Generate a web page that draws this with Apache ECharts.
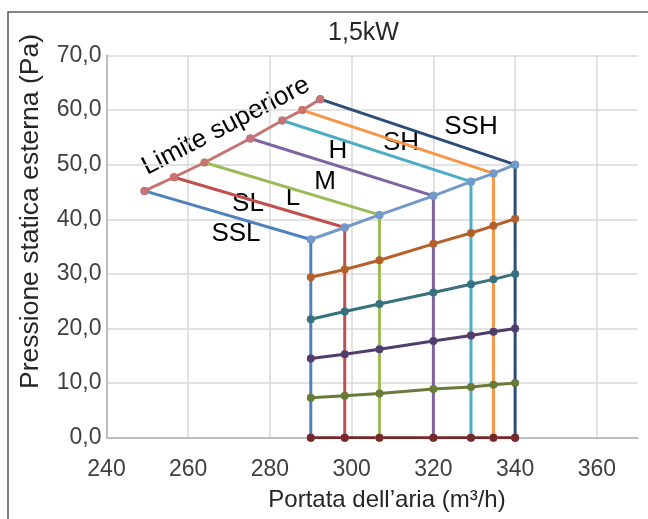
<!DOCTYPE html>
<html><head><meta charset="utf-8">
<script src="https://cdn.jsdelivr.net/npm/echarts@6/dist/echarts.min.js"></script>
<style>html,body{margin:0;padding:0;background:#fff}#c{width:648px;height:519px}</style>
</head><body><div id="c"></div>
<script>
// ---- data ----
const speedNames = ['SSL', 'SL', 'L', 'M', 'H', 'SH', 'SSH'];
// upper limit points (Limite superiore)
const upperFlow = [249.3, 256.5, 264.0, 275.2, 283.0, 287.9, 292.3];
const upperPress = [45.2, 47.7, 50.4, 54.8, 58.1, 60.0, 62.0];
// end points of each speed curve (maximum static pressure at fixed flow)
const endFlow = [290.0, 298.3, 306.8, 320.0, 329.2, 334.7, 340.0];
const endPress = [36.3, 38.5, 40.8, 44.3, 46.9, 48.4, 50.0];
// curves of constant external static pressure
const press40 = [29.4, 30.8, 32.5, 35.5, 37.5, 38.8, 40.1];
const press30 = [21.7, 23.1, 24.5, 26.6, 28.1, 29.0, 30.0];
const press20 = [14.5, 15.3, 16.2, 17.7, 18.7, 19.4, 20.0];
const press10 = [7.3, 7.7, 8.1, 8.9, 9.3, 9.7, 10.0];
const press0 = [0, 0, 0, 0, 0, 0, 0];
const xTicks = [240, 260, 280, 300, 320, 340, 360];
const yTicks = [0, 10, 20, 30, 40, 50, 60, 70];

const speedColors = ['#4f81bd', '#c0504d', '#9bbb59', '#8064a2', '#4bacc6', '#f79646', '#2c4d75'];
const pressColors = ['#b5602c', '#37707f', '#513d6b', '#687b38', '#76292a'];
const upperColor = '#c77370';
const lowerColor = '#729aca';

const FONT = '"Liberation Sans", Arial, sans-serif';

const series = [];
speedNames.forEach((n, i) => {
  series.push({
    name: n, type: 'line', symbol: 'circle', symbolSize: 8, showAllSymbol: true,
    lineStyle: { width: 3, color: speedColors[i] }, itemStyle: { color: speedColors[i] },
    data: [[upperFlow[i], upperPress[i]], [endFlow[i], endPress[i]], [endFlow[i], 0]],
    animation: false
  });
});
series.push({
  name: 'Limite superiore', type: 'line', symbol: 'circle', symbolSize: 8,
  lineStyle: { width: 3, color: upperColor }, itemStyle: { color: upperColor },
  data: upperFlow.map((x, i) => [x, upperPress[i]]), animation: false
});
series.push({
  name: 'Limite inferiore', type: 'line', symbol: 'circle', symbolSize: 8,
  lineStyle: { width: 3, color: lowerColor }, itemStyle: { color: lowerColor },
  data: endFlow.map((x, i) => [x, endPress[i]]), animation: false
});
[press40, press30, press20, press10, press0].forEach((arr, k) => {
  series.push({
    name: 'P' + k, type: 'line', symbol: 'circle', symbolSize: 8,
    lineStyle: { width: 3, color: pressColors[k] }, itemStyle: { color: pressColors[k] },
    data: endFlow.map((x, i) => [x, arr[i]]), animation: false
  });
});

const labelPos = {
  SSH: [471, 127], SH: [401, 143], H: [338, 151], M: [325, 182], L: [293, 198], SL: [248, 204], SSL: [236, 234]
};

const graphic = [
  { type: 'rect', shape: { x: 8, y: 12, width: 700, height: 600 }, style: { fill: 'none', stroke: '#595959', lineWidth: 1.5 }, z: -10, silent: true },
  { type: 'text', x: 363.5, y: 33, style: { text: '1,5kW', font: '25px ' + FONT, fill: '#262626', align: 'center', verticalAlign: 'middle' } },
  { type: 'text', x: 387, y: 500, style: { text: 'Portata dell\u2019aria (m\u00b3/h)', font: '24px ' + FONT, fill: '#262626', align: 'center', verticalAlign: 'middle' } },
  { type: 'text', x: 31, y: 211.5, rotation: Math.PI / 2, style: { text: 'Pressione statica esterna (Pa)', font: '26.5px ' + FONT, fill: '#262626', align: 'center', verticalAlign: 'middle' } },
  { type: 'text', x: 226, y: 126, rotation: 0.48, style: { text: 'Limite superiore', font: '26px ' + FONT, fill: '#000', align: 'center', verticalAlign: 'middle' } }
];
speedNames.forEach(n => {
  graphic.push({ type: 'text', x: labelPos[n][0], y: labelPos[n][1], style: { text: n, font: '26px ' + FONT, fill: '#000', align: 'center', verticalAlign: 'middle' } });
});

const chart = echarts.init(document.getElementById('c'), null, { renderer: 'canvas' });
chart.setOption({
  animation: false,
  backgroundColor: '#fff',
  grid: { left: 106.5, right: 10.3, top: 55.5, bottom: 81.3, containLabel: false },
  xAxis: {
    type: 'value', min: 240, max: 370, interval: 20,
    axisLine: { show: true, onZero: true, lineStyle: { color: '#bfbfbf', width: 2 } },
    axisTick: { show: false },
    splitLine: { show: true, showMaxLine: false, lineStyle: { color: '#d9d9d9', width: 1.5 } },
    axisLabel: { fontSize: 23, fontFamily: FONT, color: '#404040', margin: 20, showMaxLabel: false,
      formatter: v => xTicks.includes(v) ? String(v) : '' }
  },
  yAxis: {
    type: 'value', min: 0, max: 70, interval: 10,
    axisLine: { show: true, lineStyle: { color: '#bfbfbf', width: 2 } },
    axisTick: { show: false },
    splitLine: { show: true, lineStyle: { color: '#d9d9d9', width: 1.5 } },
    axisLabel: { fontSize: 23, fontFamily: FONT, color: '#404040', margin: 5,
      formatter: v => yTicks.includes(v) ? v.toFixed(1).replace('.', ',') : '' }
  },
  series: series,
  graphic: graphic
});
</script></body></html>
